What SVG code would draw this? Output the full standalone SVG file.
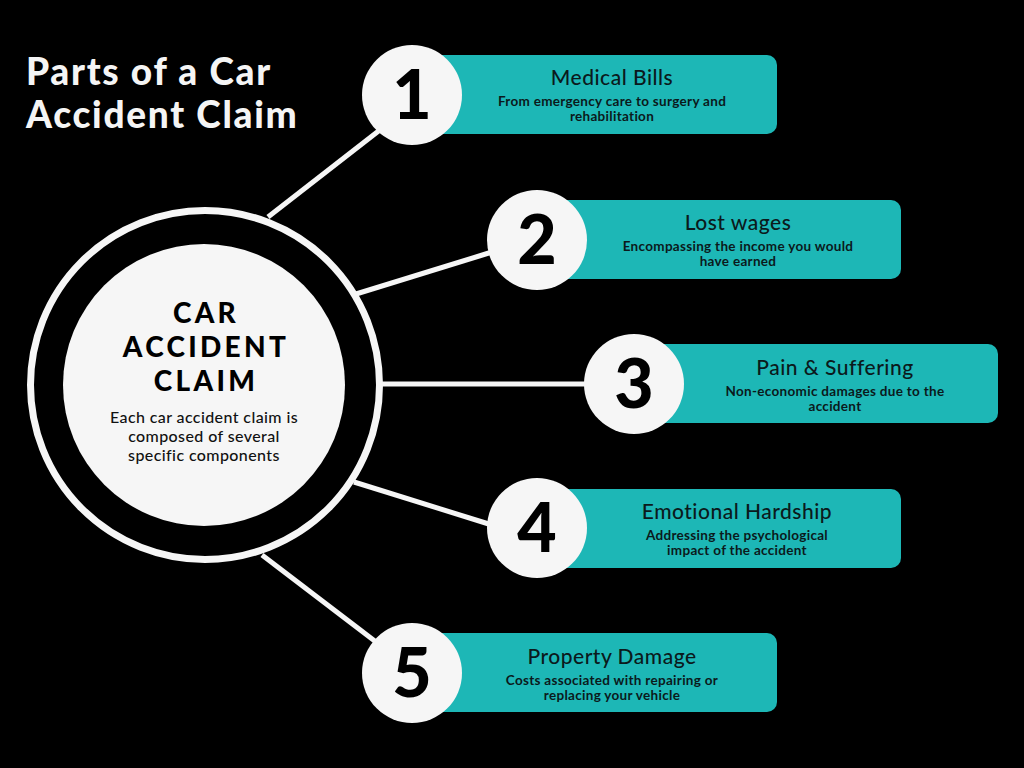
<svg xmlns="http://www.w3.org/2000/svg" width="1024" height="768" viewBox="0 0 1024 768">
<style>
.title{font-family:Lato,"Noto Sans",sans-serif;font-weight:900;font-size:37px;letter-spacing:1.7px;fill:#f5f5f5}
.num{font-family:Lato,"Noto Sans",sans-serif;font-weight:900;font-size:68px;fill:#000;text-anchor:middle}
.card{fill:#1db7b6}
.disc{fill:#f6f6f6}
.ct{font-family:Lato,"Noto Sans",sans-serif;font-weight:500;font-size:21px;letter-spacing:0.5px;fill:#0b1a1c;text-anchor:middle}
.cs{font-family:Lato,"Noto Sans",sans-serif;font-weight:700;font-size:13.5px;letter-spacing:0.3px;fill:#0b1a1c;text-anchor:middle}
.big{font-family:Lato,"Noto Sans",sans-serif;font-weight:900;font-size:28px;letter-spacing:3.3px;fill:#000;text-anchor:middle}
.desc{font-family:Lato,"Noto Sans",sans-serif;font-weight:500;font-size:16px;letter-spacing:0.4px;fill:#111;text-anchor:middle}
.conn{stroke:#f6f6f6;stroke-width:5;fill:none}
</style>
<rect width="1024" height="768" fill="#000"/>
<g id="title">
<text class="title" x="26" y="85">Parts of a Car</text>
<text class="title" x="26" y="128">Accident Claim</text>
</g>
<g id="connectors">
<line class="conn" x1="268" y1="217" x2="385" y2="126"/>
<line class="conn" x1="356" y1="294" x2="492" y2="252"/>
<line class="conn" x1="382" y1="384" x2="588" y2="384"/>
<line class="conn" x1="354" y1="482" x2="492" y2="525"/>
<line class="conn" x1="262" y1="555" x2="380" y2="645"/>
</g>
<g id="center">
<circle cx="205" cy="385" r="174.5" fill="none" stroke="#f6f6f6" stroke-width="7"/>
<circle class="disc" cx="204" cy="385" r="141"/>
<text class="big" x="206" y="323">CAR</text>
<text class="big" x="206" y="357">ACCIDENT</text>
<text class="big" x="206" y="391">CLAIM</text>
<text class="desc" x="204" y="423">Each car accident claim is</text>
<text class="desc" x="204" y="442">composed of several</text>
<text class="desc" x="204" y="461">specific components</text>
</g>
<g id="item1">
<rect class="card" x="430" y="55" width="347" height="79" rx="10"/>
<circle class="disc" cx="412" cy="95" r="50"/>
<text class="num" x="412" y="119">1</text>
<text class="ct" x="612" y="85">Medical Bills</text>
<text class="cs" x="612" y="106">From emergency care to surgery and</text>
<text class="cs" x="612" y="121">rehabilitation</text>
</g>
<g id="item2">
<rect class="card" x="555" y="200" width="346" height="79" rx="10"/>
<circle class="disc" cx="537" cy="240" r="50"/>
<text class="num" x="537" y="264">2</text>
<text class="ct" x="738" y="230">Lost wages</text>
<text class="cs" x="738" y="251">Encompassing the income you would</text>
<text class="cs" x="738" y="266">have earned</text>
</g>
<g id="item3">
<rect class="card" x="650" y="344" width="348" height="79" rx="10"/>
<circle class="disc" cx="634" cy="384" r="50"/>
<text class="num" x="634" y="408">3</text>
<text class="ct" x="835" y="375">Pain &amp; Suffering</text>
<text class="cs" x="835" y="396">Non-economic damages due to the</text>
<text class="cs" x="835" y="411">accident</text>
</g>
<g id="item4">
<rect class="card" x="555" y="489" width="346" height="79" rx="10"/>
<circle class="disc" cx="537" cy="528" r="50"/>
<text class="num" x="537" y="552">4</text>
<text class="ct" x="737" y="519">Emotional Hardship</text>
<text class="cs" x="737" y="540">Addressing the psychological</text>
<text class="cs" x="737" y="555">impact of the accident</text>
</g>
<g id="item5">
<rect class="card" x="430" y="633" width="347" height="79" rx="10"/>
<circle class="disc" cx="412" cy="673" r="50"/>
<text class="num" x="412" y="697">5</text>
<text class="ct" x="612" y="664">Property Damage</text>
<text class="cs" x="612" y="685">Costs associated with repairing or</text>
<text class="cs" x="612" y="700">replacing your vehicle</text>
</g>
</svg>
